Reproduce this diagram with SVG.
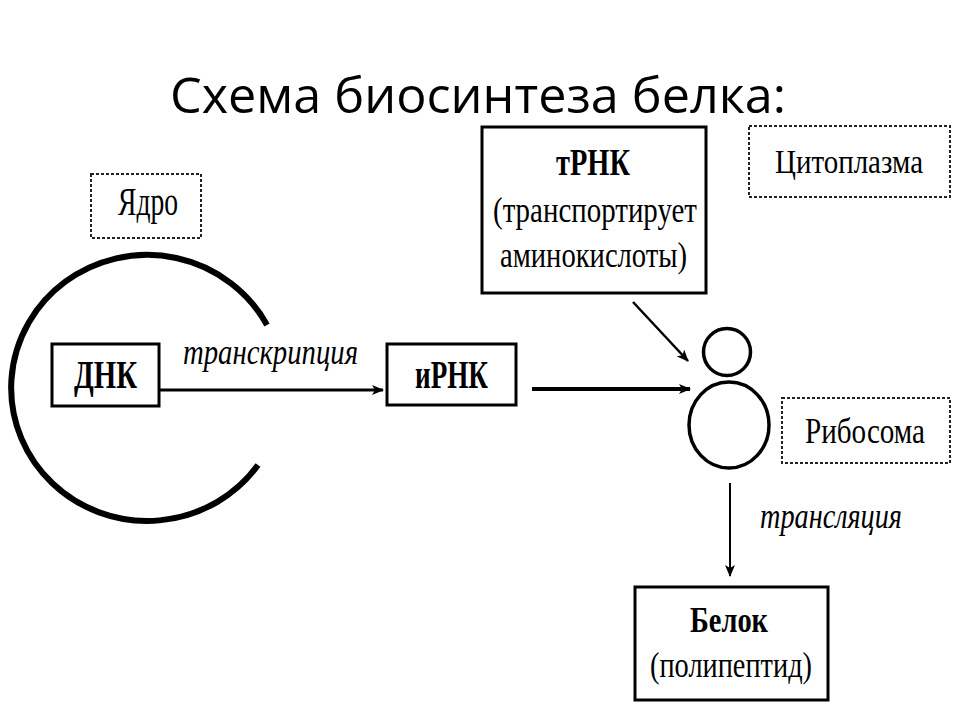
<svg xmlns="http://www.w3.org/2000/svg" width="960" height="720" viewBox="0 0 960 720">
<defs>
<style>
.box{fill:#fff;stroke:#000;stroke-width:3}
.dot{fill:#fff;stroke:#222;stroke-width:2;stroke-dasharray:3 2}
.t{font-family:"Liberation Serif","Times New Roman",serif;fill:#000}
.b{font-weight:bold}
.i{font-style:italic}
.conn{stroke:#000;fill:none}
</style>
<marker id="ah" viewBox="0 0 12 10" refX="11" refY="5" markerWidth="12" markerHeight="10" markerUnits="userSpaceOnUse" orient="auto">
<path d="M0,0 L12,5 L0,10 L3,5 z" fill="#000"/>
</marker>
</defs>
<rect width="960" height="720" fill="#fff"/>
<text x="170" y="113" font-family="'Open Sans','Noto Sans',sans-serif" font-size="50" textLength="616" lengthAdjust="spacingAndGlyphs">Схема биосинтеза белка:</text>

<g id="nucleus">
<path d="M267,325 A136,133 0 1 0 258,465" fill="none" stroke="#000" stroke-width="6"/>
</g>

<g id="label-yadro">
<rect class="dot" x="91" y="174" width="110" height="64"/>
<text class="t" x="118" y="215" font-size="39" textLength="60" lengthAdjust="spacingAndGlyphs">Ядро</text>
</g>

<g id="dnk">
<rect class="box" x="52" y="344" width="107" height="62"/>
<text class="t b" x="74" y="388" font-size="40" textLength="63" lengthAdjust="spacingAndGlyphs">ДНК</text>
</g>

<g id="irnk">
<rect class="box" x="387" y="344" width="129" height="61"/>
<text class="t b" x="415" y="388" font-size="40" textLength="73" lengthAdjust="spacingAndGlyphs">иРНК</text>
</g>

<g id="trnk">
<rect class="box" x="482" y="127" width="224" height="166"/>
<text class="t b" x="556" y="175" font-size="37" textLength="74" lengthAdjust="spacingAndGlyphs">тРНК</text>
<text class="t" x="493" y="222" font-size="35" textLength="204" lengthAdjust="spacingAndGlyphs">(транспортирует</text>
<text class="t" x="500" y="267" font-size="35" textLength="187" lengthAdjust="spacingAndGlyphs">аминокислоты)</text>
</g>

<g id="cytoplasm">
<rect class="dot" x="749" y="126" width="201" height="71"/>
<text class="t" x="775" y="173" font-size="34" textLength="148" lengthAdjust="spacingAndGlyphs">Цитоплазма</text>
</g>

<g id="ribosome">
<circle cx="727" cy="352" r="23.5" fill="none" stroke="#000" stroke-width="3.5"/>
<ellipse cx="729" cy="425" rx="40" ry="43" fill="none" stroke="#000" stroke-width="3.5"/>
</g>

<g id="label-ribosoma">
<rect class="dot" x="782" y="398" width="168" height="65"/>
<text class="t" x="805" y="443" font-size="36" textLength="120" lengthAdjust="spacingAndGlyphs">Рибосома</text>
</g>

<g id="belok">
<rect class="box" x="635" y="587" width="193" height="113"/>
<text class="t b" x="690" y="632" font-size="36" textLength="78" lengthAdjust="spacingAndGlyphs">Белок</text>
<text class="t" x="650" y="677" font-size="35" textLength="162" lengthAdjust="spacingAndGlyphs">(полипептид)</text>
</g>

<g id="connectors">
<line class="conn" x1="159" y1="390" x2="383" y2="390" stroke-width="3" marker-end="url(#ah)"/>
<text class="t i" x="183" y="364" font-size="35" textLength="175" lengthAdjust="spacingAndGlyphs">транскрипция</text>
<line class="conn" x1="532" y1="389" x2="690" y2="389" stroke-width="4" marker-end="url(#ah)"/>
<line class="conn" x1="633" y1="302" x2="688" y2="361" stroke-width="2.5" marker-end="url(#ah)"/>
<line class="conn" x1="730" y1="483" x2="730" y2="576" stroke-width="2" marker-end="url(#ah)"/>
<text class="t i" x="760" y="528" font-size="35" textLength="142" lengthAdjust="spacingAndGlyphs">трансляция</text>
</g>
</svg>
